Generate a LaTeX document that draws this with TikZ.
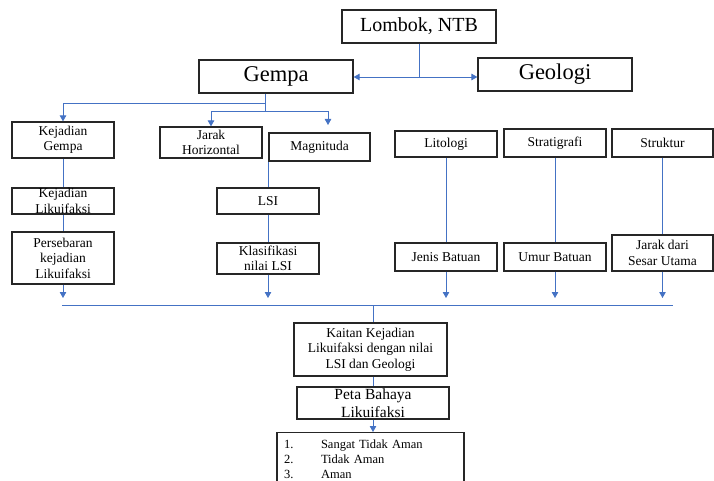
\documentclass[tikz,border=0pt]{standalone}
\usepackage{fontspec}
\setmainfont{Liberation Serif}
\usetikzlibrary{arrows.meta}
\definecolor{linkblue}{HTML}{4472C4}
\tikzset{
  box/.style={draw=black!85, line width=1.2pt, inner sep=0pt, align=center,
    minimum width=102pt, font=\fontsize{13.5}{15.5}\selectfont},
  bigbox/.style={box, minimum width=154pt, minimum height=33pt,
    font=\fontsize{22.5}{26}\selectfont},
  link/.style={draw=linkblue, line width=0.9pt},
  arr/.style={link, -{Triangle[length=6pt,width=6.5pt]}}
}

\begin{document}
\begin{tikzpicture}[x=1pt,y=1pt]
    \clip (0,0) rectangle (714,-481);
    % top level
    \node[bigbox, font=\fontsize{20}{24}\selectfont] (lombok) at (419,-26.5) {Lombok, NTB};
    \node[bigbox] (gempa) at (276,-76.5) {Gempa};
    \node[bigbox] (geologi) at (555,-74.5) {Geologi};

    % gempa side
    \node[box, minimum height=36pt] (kgempa) at (63,-140) {Kejadian\\Gempa};
    \node[box, minimum height=26pt] (klik) at (63,-201) {Kejadian\\Likuifaksi};
    \node[box, minimum height=52pt] (sebaran) at (63,-258) {Persebaran\\kejadian\\Likuifaksi};
    \node[box, minimum height=31pt] (jarak) at (211,-142.5) {Jarak\\Horizontal};
    \node[box, minimum width=101pt, minimum height=28pt] (magn) at (319.5,-147) {Magnituda};
    \node[box, minimum height=26pt] (lsi) at (268,-201) {LSI};
    \node[box, minimum height=31pt] (klas) at (268,-258.5) {Klasifikasi\\nilai LSI};

    % geologi side
    \node[box, minimum height=26pt] (lito) at (446,-144) {Litologi};
    \node[box, minimum height=28pt] (strat) at (555,-143) {Stratigrafi};
    \node[box, minimum width=101pt, minimum height=28pt] (struk) at (662.5,-143) {Struktur};
    \node[box, minimum height=28pt] (jenis) at (446,-257) {Jenis Batuan};
    \node[box, minimum height=28pt] (umur) at (555,-257) {Umur Batuan};
    \node[box, minimum width=101pt, minimum height=36pt] (sesar) at (662.5,-253) {Jarak dari\\Sesar Utama};

    % result
    \node[box, minimum width=153pt, minimum height=53pt] (kaitan) at (370.5,-349.5)
        {Kaitan Kejadian\\Likuifaksi dengan nilai\\LSI dan Geologi};
    \node[box, minimum width=152pt, minimum height=32pt,
        font=\fontsize{15.5}{17.5}\selectfont] (peta) at (373,-403) {Peta Bahaya\\Likuifaksi};
    \node[box, anchor=north, align=left, text width=173pt, inner xsep=7pt, inner ysep=7pt,
        font=\fontsize{12.5}{15}\selectfont] (list) at (370.5,-432)
        {\makebox[37pt][l]{1.}Sangat Tidak Aman\\
         \makebox[37pt][l]{2.}Tidak Aman\\
         \makebox[37pt][l]{3.}Aman\\
         \mbox{}};

    % connectors
    \coordinate (split) at (lombok.south |- 0,-77);
    \coordinate (gsplit) at (265,-111);
    \coordinate (gleft) at (265,-103);
    \coordinate (magtip) at (328,-125);
    \coordinate (bus) at (0,-298);
    \coordinate (busl) at (62,-305);
    \coordinate (busr) at (673,-305);

    \draw[link] (lombok.south) -- (split);
    \draw[arr] (split) -- (split -| gempa.east);
    \draw[arr] (split) -- (split -| geologi.west);

    \draw[link] (gempa.south -| gsplit) -- (gsplit);
    \draw[arr] (gleft) -| (kgempa.north);
    \draw[arr] (gsplit) -| (jarak.north);
    \draw[arr] (gsplit) -| (magtip);

    \draw[link] (kgempa.south) -- (klik.north);
    \draw[link] (klik.south) -- (sebaran.north);
    \draw[link] (lsi.north |- magn.south) -- (lsi.north);
    \draw[link] (lsi.south) -- (klas.north);
    \draw[link] (lito.south) -- (jenis.north);
    \draw[link] (strat.south) -- (umur.north);
    \draw[link] (struk.south) -- (sesar.north);

    \foreach \n in {sebaran, klas, jenis, umur, sesar}
        \draw[arr] (\n.south) -- (\n.south |- bus);

    \draw[link] (busl) -- (busr);
    \draw[link] (peta.north |- busl) -- (peta.north |- kaitan.north);
    \draw[link] (peta.north |- kaitan.south) -- (peta.north);
    \draw[arr] (peta.south) -- (peta.south |- list.north);
\end{tikzpicture}
\end{document}
